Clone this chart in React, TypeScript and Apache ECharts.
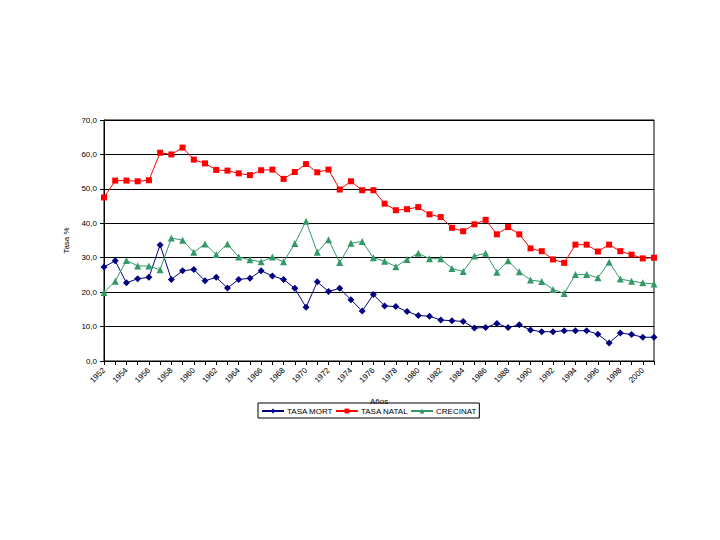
import React, { useEffect, useRef } from "react";
import * as echarts from "echarts";

const years: string[] = [];
for (let y = 1952; y <= 2001; y++) years.push(String(y));

const tasaMort = [
  27.3, 29.1, 22.7, 23.9, 24.3, 33.7, 23.7, 26.2, 26.6, 23.3,
  24.3, 21.2, 23.7, 24.0, 26.2, 24.7, 23.7, 21.1, 15.6, 23.0,
  20.2, 21.1, 17.8, 14.5, 19.3, 16.0, 15.8, 14.4, 13.2, 13.0,
  11.9, 11.7, 11.5, 9.6, 9.7, 10.9, 9.7, 10.5, 9.0, 8.5,
  8.5, 8.8, 8.8, 8.8, 7.8, 5.2, 8.1, 7.7, 6.9, 6.9,
];

const tasaNatal = [
  47.5, 52.4, 52.4, 52.2, 52.5, 60.5, 60.0, 62.0, 58.5, 57.4,
  55.5, 55.3, 54.5, 54.0, 55.4, 55.6, 52.9, 54.9, 57.2, 54.8,
  55.6, 49.8, 52.2, 49.6, 49.6, 45.7, 43.8, 44.1, 44.7, 42.6,
  41.8, 38.7, 37.7, 39.7, 41.0, 36.8, 38.9, 36.8, 32.7, 31.9,
  29.5, 28.5, 33.8, 33.8, 31.8, 33.8, 31.9, 30.9, 29.8, 30.0,
];

const crecinat = [
  19.9, 23.2, 29.2, 27.6, 27.6, 26.5, 35.7, 35.1, 31.6, 34.0,
  30.9, 34.0, 30.2, 29.4, 28.8, 30.2, 28.8, 34.1, 40.6, 31.6,
  35.2, 28.6, 34.2, 34.7, 30.0, 29.0, 27.4, 29.5, 31.3, 29.7,
  29.7, 26.9, 26.0, 30.5, 31.3, 25.8, 29.1, 25.9, 23.5, 23.1,
  20.8, 19.6, 25.1, 25.1, 24.2, 28.7, 23.8, 23.2, 22.7, 22.4,
];

const FONT = "Liberation Sans";

export default function App() {
  const ref = useRef<HTMLDivElement>(null);

  useEffect(() => {
    if (!ref.current) return;
    const chart = echarts.init(ref.current, null, { renderer: "svg" });
    chart.setOption({
      animation: false,
      backgroundColor: "#ffffff",
      textStyle: { fontFamily: FONT },
      grid: {
        left: 104,
        right: 66,
        top: 120,
        bottom: 179,
        show: true,
        borderColor: "#000",
        borderWidth: 1,
        backgroundColor: "transparent",
      },
      legend: {
        orient: "horizontal",
        left: 258,
        top: 403,
        borderColor: "#000",
        borderWidth: 1,
        padding: [4, 3, 3, 3],
        itemGap: 2,
        itemWidth: 22,
        itemHeight: 6,
        textStyle: { fontSize: 8, color: "#000", fontFamily: FONT, padding: [0, 0, 0, -2] },
        data: ["TASA MORT", "TASA NATAL", "CRECINAT"],
      },
      xAxis: {
        type: "category",
        data: years,
        boundaryGap: false,
        name: "Años",
        nameLocation: "middle",
        nameGap: 36,
        nameTextStyle: { fontSize: 8, color: "#000", fontFamily: FONT },
        axisLine: { lineStyle: { color: "#000", width: 1 } },
        axisTick: { show: true, interval: 0, length: 4, lineStyle: { color: "#000" } },
        axisLabel: {
          interval: 1,
          rotate: 45,
          fontSize: 8,
          color: "#000",
          margin: 8,
          fontFamily: FONT,
        },
        splitLine: { show: false },
      },
      yAxis: {
        type: "value",
        min: 0,
        max: 70,
        interval: 10,
        name: "Tasa %",
        nameLocation: "middle",
        nameGap: 30,
        nameRotate: 90,
        nameTextStyle: { fontSize: 8, color: "#000", fontFamily: FONT },
        axisLine: { show: true, lineStyle: { color: "#000", width: 1 } },
        axisTick: { show: true, length: 4, lineStyle: { color: "#000" } },
        axisLabel: {
          fontSize: 8,
          color: "#000",
          margin: 7,
          fontFamily: FONT,
          formatter: (v: number) => v.toFixed(1).replace(".", ","),
        },
        splitLine: { show: true, lineStyle: { color: "#000", width: 1 } },
      },
      series: [
        {
          name: "TASA MORT",
          type: "line",
          data: tasaMort,
          symbol: "diamond",
          symbolSize: 7,
          lineStyle: { color: "#000080", width: 1 },
          itemStyle: { color: "#000080" },
        },
        {
          name: "TASA NATAL",
          type: "line",
          data: tasaNatal,
          symbol: "rect",
          symbolSize: 6,
          lineStyle: { color: "#ff0000", width: 1 },
          itemStyle: { color: "#ff0000" },
        },
        {
          name: "CRECINAT",
          type: "line",
          data: crecinat,
          symbol: "triangle",
          symbolSize: 7,
          lineStyle: { color: "#339966", width: 1 },
          itemStyle: { color: "#339966" },
        },
      ],
    });
    return () => chart.dispose();
  }, []);

  return (
    <div
      ref={ref}
      style={{ position: "fixed", left: 0, top: 0, width: 720, height: 540, background: "#fff" }}
    />
  );
}
